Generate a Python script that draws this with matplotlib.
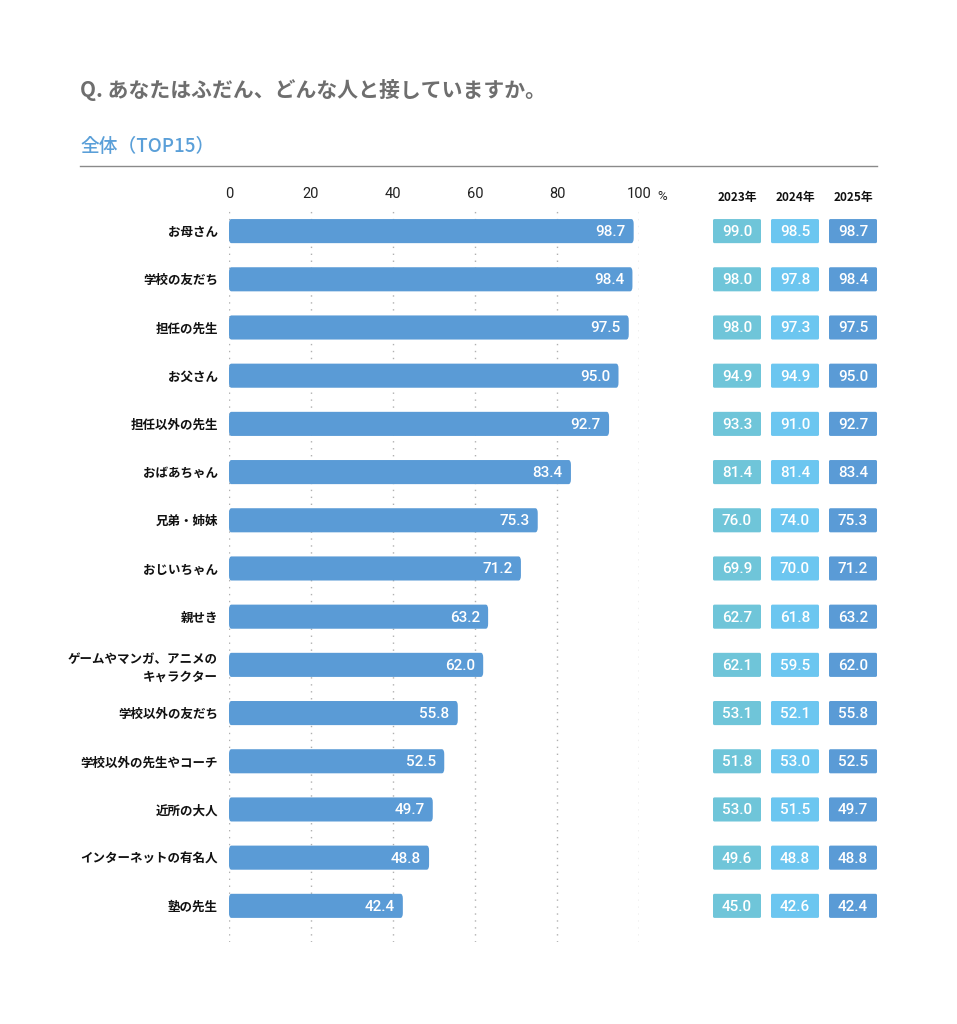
import matplotlib
matplotlib.use("Agg")
import matplotlib.pyplot as plt
from matplotlib.patches import FancyBboxPatch

categories = ["お母さん", "学校の友だち", "担任の先生", "お父さん", "担任以外の先生",
              "おばあちゃん", "兄弟・姉妹", "おじいちゃん", "親せき",
              "ゲームやマンガ、アニメの\nキャラクター", "学校以外の友だち",
              "学校以外の先生やコーチ", "近所の大人", "インターネットの有名人", "塾の先生"]
values_2025 = [98.7, 98.4, 97.5, 95.0, 92.7, 83.4, 75.3, 71.2, 63.2, 62.0, 55.8, 52.5, 49.7, 48.8, 42.4]
values_2024 = [98.5, 97.8, 97.3, 94.9, 91.0, 81.4, 74.0, 70.0, 61.8, 59.5, 52.1, 53.0, 51.5, 48.8, 42.6]
values_2023 = [99.0, 98.0, 98.0, 94.9, 93.3, 81.4, 76.0, 69.9, 62.7, 62.1, 53.1, 51.8, 53.0, 49.6, 45.0]
years = ["2023年", "2024年", "2025年"]
x_ticks = [0, 20, 40, 60, 80, 100]
title = "Q. あなたはふだん、どんな人と接していますか。"
subtitle = "全体（TOP15）"

JP = ["Noto Sans CJK JP", "DejaVu Sans"]
NUM = ["Roboto", "DejaVu Sans"]
plt.rcParams["font.family"] = JP

W, H = 957, 1024
fig = plt.figure(figsize=(W / 100, H / 100), dpi=100)
fig.patch.set_facecolor("white")

def fx(px):
    return px / W

def fy(py):
    return 1 - py / H

# Header texts
fig.text(fx(80), fy(90), title, fontsize=15, color="#6e6e6e", fontweight="bold",
         va="center", ha="left", family=JP)
fig.text(fx(80), fy(147), subtitle, fontsize=13.5, color="#5a9fd8", fontweight="medium",
         va="center", ha="left", family=JP)
fig.add_artist(plt.Line2D([fx(80), fx(877)], [fy(166), fy(166)], color="#8a8a8a", lw=1.0,
                          transform=fig.transFigure))

# Main bar axes
top_px, bot_px = 207, 942
ax = fig.add_axes([fx(229), fy(bot_px), (639 - 229) / W, (bot_px - top_px) / H])
n = len(categories)
ypos = list(range(n))
bar_color = "#5a9bd6"
ax.set_xlim(0, 100)
ax.set_ylim(n - 0.25, -0.5)
for i, v in enumerate(values_2025):
    p = FancyBboxPatch((0, i - 0.25), v, 0.5, boxstyle="round,pad=0,rounding_size=0.6",
                       mutation_aspect=0.5 / 3.0, facecolor=bar_color, edgecolor="none", zorder=2)
    ax.add_patch(p)
    ax.text(v - 2.0, i + 0.02, f"{v:.1f}", color="white", fontsize=11, fontweight="medium",
            ha="right", va="center", family=NUM, zorder=3)
for t in x_ticks:
    ax.axvline(t, color="#b0b0b0", lw=1.0, ls=(0, (1, 4)), zorder=1)
ax.set_xticks(x_ticks)
ax.set_xticklabels([str(t) for t in x_ticks], family=NUM, fontsize=10.5, color="#222222")
ax.xaxis.tick_top()
ax.tick_params(axis="x", length=0, pad=4)
ax.set_yticks(ypos)
ax.set_yticklabels(categories, fontsize=9, fontweight="bold", color="#111111",
                   linespacing=1.45, ha="right")
ax.tick_params(axis="y", length=0, pad=8)
for s in ax.spines.values():
    s.set_visible(False)
fig.text(fx(657), fy(197), "%", fontsize=9.5, family=NUM, color="#222222", ha="left", va="center")

# Year boxes axes
ax2 = fig.add_axes([fx(713), fy(bot_px), (877 - 713) / W, (bot_px - top_px) / H])
ax2.set_xlim(0, 164)
ax2.set_ylim(n - 0.25, -0.5)
ax2.axis("off")
box_colors = ["#6fc5d9", "#6cc6f0", "#5a9bd6"]
series = [values_2023, values_2024, values_2025]
for j, (yr, vals, c) in enumerate(zip(years, series, box_colors)):
    x0 = 58 * j
    fig.text(fx(713 + x0 + 24), fy(197), yr, fontsize=8.5, fontweight="bold", ha="center",
             va="center", color="#111111", family=JP)
    for i, v in enumerate(vals):
        p = FancyBboxPatch((x0, i - 0.25), 48, 0.5, boxstyle="round,pad=0,rounding_size=1.5",
                           mutation_aspect=0.5 / 24, facecolor=c, edgecolor="none")
        ax2.add_patch(p)
        ax2.text(x0 + 24, i + 0.02, f"{v:.1f}", color="white", fontsize=11, fontweight="medium",
                 ha="center", va="center", family=NUM)

fig.savefig("out.png", dpi=100, facecolor="white")
